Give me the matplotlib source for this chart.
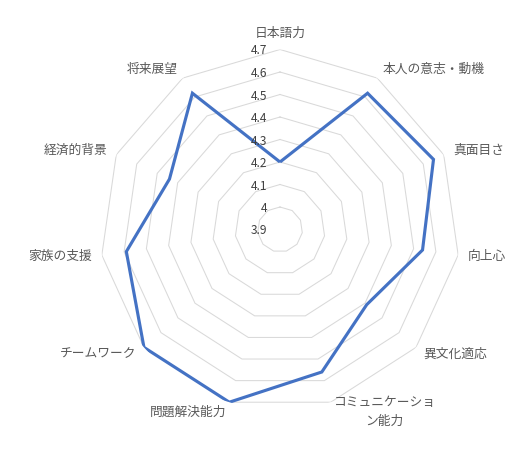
import numpy as np
import matplotlib
matplotlib.use('Agg')
import matplotlib.pyplot as plt
from matplotlib.transforms import offset_copy

plt.rcParams['font.family'] = ['Noto Sans CJK JP', 'DejaVu Sans']

categories = ['日本語力', '本人の意志・動機', '真面目さ', '向上心', '異文化適応',
              'コミュニケーショ\nン能力', '問題解決能力', 'チームワーク',
              '家族の支援', '経済的背景', '将来展望']
values = [4.2, 4.62, 4.65, 4.54, 4.41, 4.56, 4.7, 4.7, 4.59, 4.44, 4.62]
ticks = [3.9, 4.0, 4.1, 4.2, 4.3, 4.4, 4.5, 4.6, 4.7]
tick_labels = ['3.9', '4', '4.1', '4.2', '4.3', '4.4', '4.5', '4.6', '4.7']

r_min, r_max = 3.9, 4.7
n = len(categories)

W, H = 522, 450
cx, cy, R = 280, 229.5, 180
fig = plt.figure(figsize=(W / 100, H / 100), dpi=100)
ax = fig.add_axes([(cx - R) / W, (H - cy - R) / H, 2 * R / W, 2 * R / H],
                  projection='polar')
ax.set_theta_zero_location('N')
ax.set_theta_direction(-1)
ax.set_ylim(r_min, r_max)
ax.grid(False)
ax.spines['polar'].set_visible(False)
ax.set_xticks([])
ax.set_yticks([])
ax.patch.set_alpha(0)

angles = np.arange(n) * 2 * np.pi / n
closed = np.append(angles, angles[0])

for t in ticks[1:]:
    ax.plot(closed, [t] * (n + 1), color='#d9d9d9', lw=0.75, zorder=1)

vals_closed = values + [values[0]]
ax.plot(closed, vals_closed, color='#4472C4', lw=2.25, zorder=3,
        solid_joinstyle='miter', solid_capstyle='butt')

# tick labels
tr = offset_copy(ax.transData, fig=fig, x=-13, y=-1.5, units='dots')
for t, lab in zip(ticks, tick_labels):
    ax.text(0, t, lab, transform=tr, ha='right', va='center',
            fontsize=8.6, color='#404040')

# category labels
r_lab = r_max + (r_max - r_min) * 10 / R
for a, lab in zip(angles, categories):
    deg = np.degrees(a)
    if abs(deg) < 1e-6:
        ha, va = 'center', 'bottom'
    elif deg < 180:
        ha, va = 'left', 'center'
    else:
        ha, va = 'right', 'center'
    ax.text(a, r_lab, lab, ha=ha, va=va, fontsize=9.2, color='#595959',
            multialignment='center', linespacing=1.6)

fig.savefig('out.png', dpi=100)
